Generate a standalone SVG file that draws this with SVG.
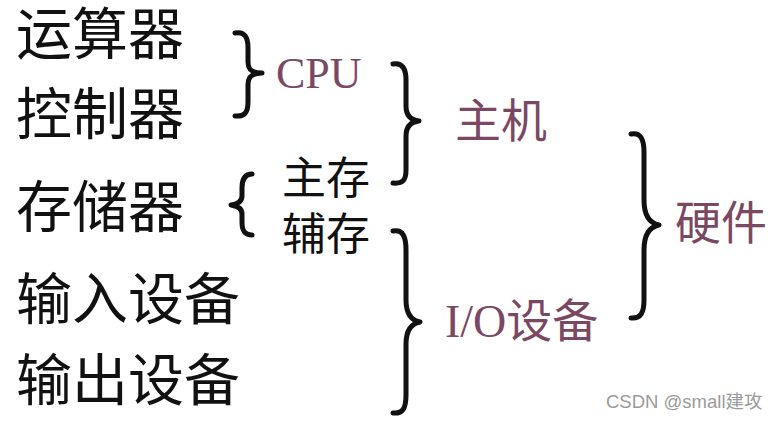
<svg xmlns="http://www.w3.org/2000/svg" width="779" height="421" viewBox="0 0 779 421">
<style>
.item{font-family:"Noto Sans CJK SC","Noto Sans",sans-serif;font-size:56px;fill:#111}
.sub{font-family:"Noto Sans CJK SC","Noto Sans",sans-serif;font-size:44px;fill:#111}
.grp{font-family:"Liberation Serif","Noto Sans CJK SC",serif;font-size:46px;fill:#7a4863}
.brace{fill:none;stroke:#111;stroke-width:5;stroke-linecap:round;stroke-linejoin:round}
.wm{font-family:"Liberation Sans","Noto Sans CJK SC",sans-serif;font-size:18.5px;fill:#9a9a9a}
</style>
<rect width="779" height="421" fill="#fff"/>
<g id="alu"><text class="item" x="16" y="54">运算器</text></g>
<g id="cu"><text class="item" x="16" y="134">控制器</text></g>
<g id="mem"><text class="item" x="16" y="227">存储器</text></g>
<g id="input"><text class="item" x="16" y="319">输入设备</text></g>
<g id="output"><text class="item" x="16" y="400">输出设备</text></g>
<g id="cpu"><text class="grp" x="276" y="88" style="font-size:44px">CPU</text></g>
<g id="mainmem"><text class="sub" x="282" y="194">主存</text></g>
<g id="auxmem"><text class="sub" x="282" y="250">辅存</text></g>
<g id="host"><text class="grp" x="455" y="137">主机</text></g>
<g id="io"><text class="grp" x="445" y="337">I/O设备</text></g>
<g id="hardware"><text class="grp" x="675" y="239">硬件</text></g>
<g id="connectors">
<path class="brace" d="M235,33 C245,31 248,38 248,48 L248,62 C248,70 252,73 262,73 C252,73 248,77 248,85 L248,102 C248,112 245,117 235,116"/>
<path class="brace" d="M393,64 C403,62 406,70 406,80 L406,106 C406,115 410,120 419,121 C410,122 406,127 406,136 L406,170 C406,180 403,184 393,183"/>
<path class="brace" d="M252,174 C244,174 242,180 242,188 L242,196 C242,201 238,204 231,205 C238,206 242,209 242,214 L242,222 C242,230 244,235 252,235"/>
<path class="brace" d="M393,231 C403,229 406,237 406,250 L406,300 C406,312 410,320 420,322 C410,324 406,332 406,344 L406,395 C406,408 403,414 393,413"/>
<path class="brace" d="M631,134 C641,132 644,140 644,152 L644,200 C644,214 649,223 659,225 C649,227 644,236 644,250 L644,300 C644,312 641,319 631,318"/>
</g>
<text class="wm" x="606" y="408">CSDN @small建攻</text>
</svg>
